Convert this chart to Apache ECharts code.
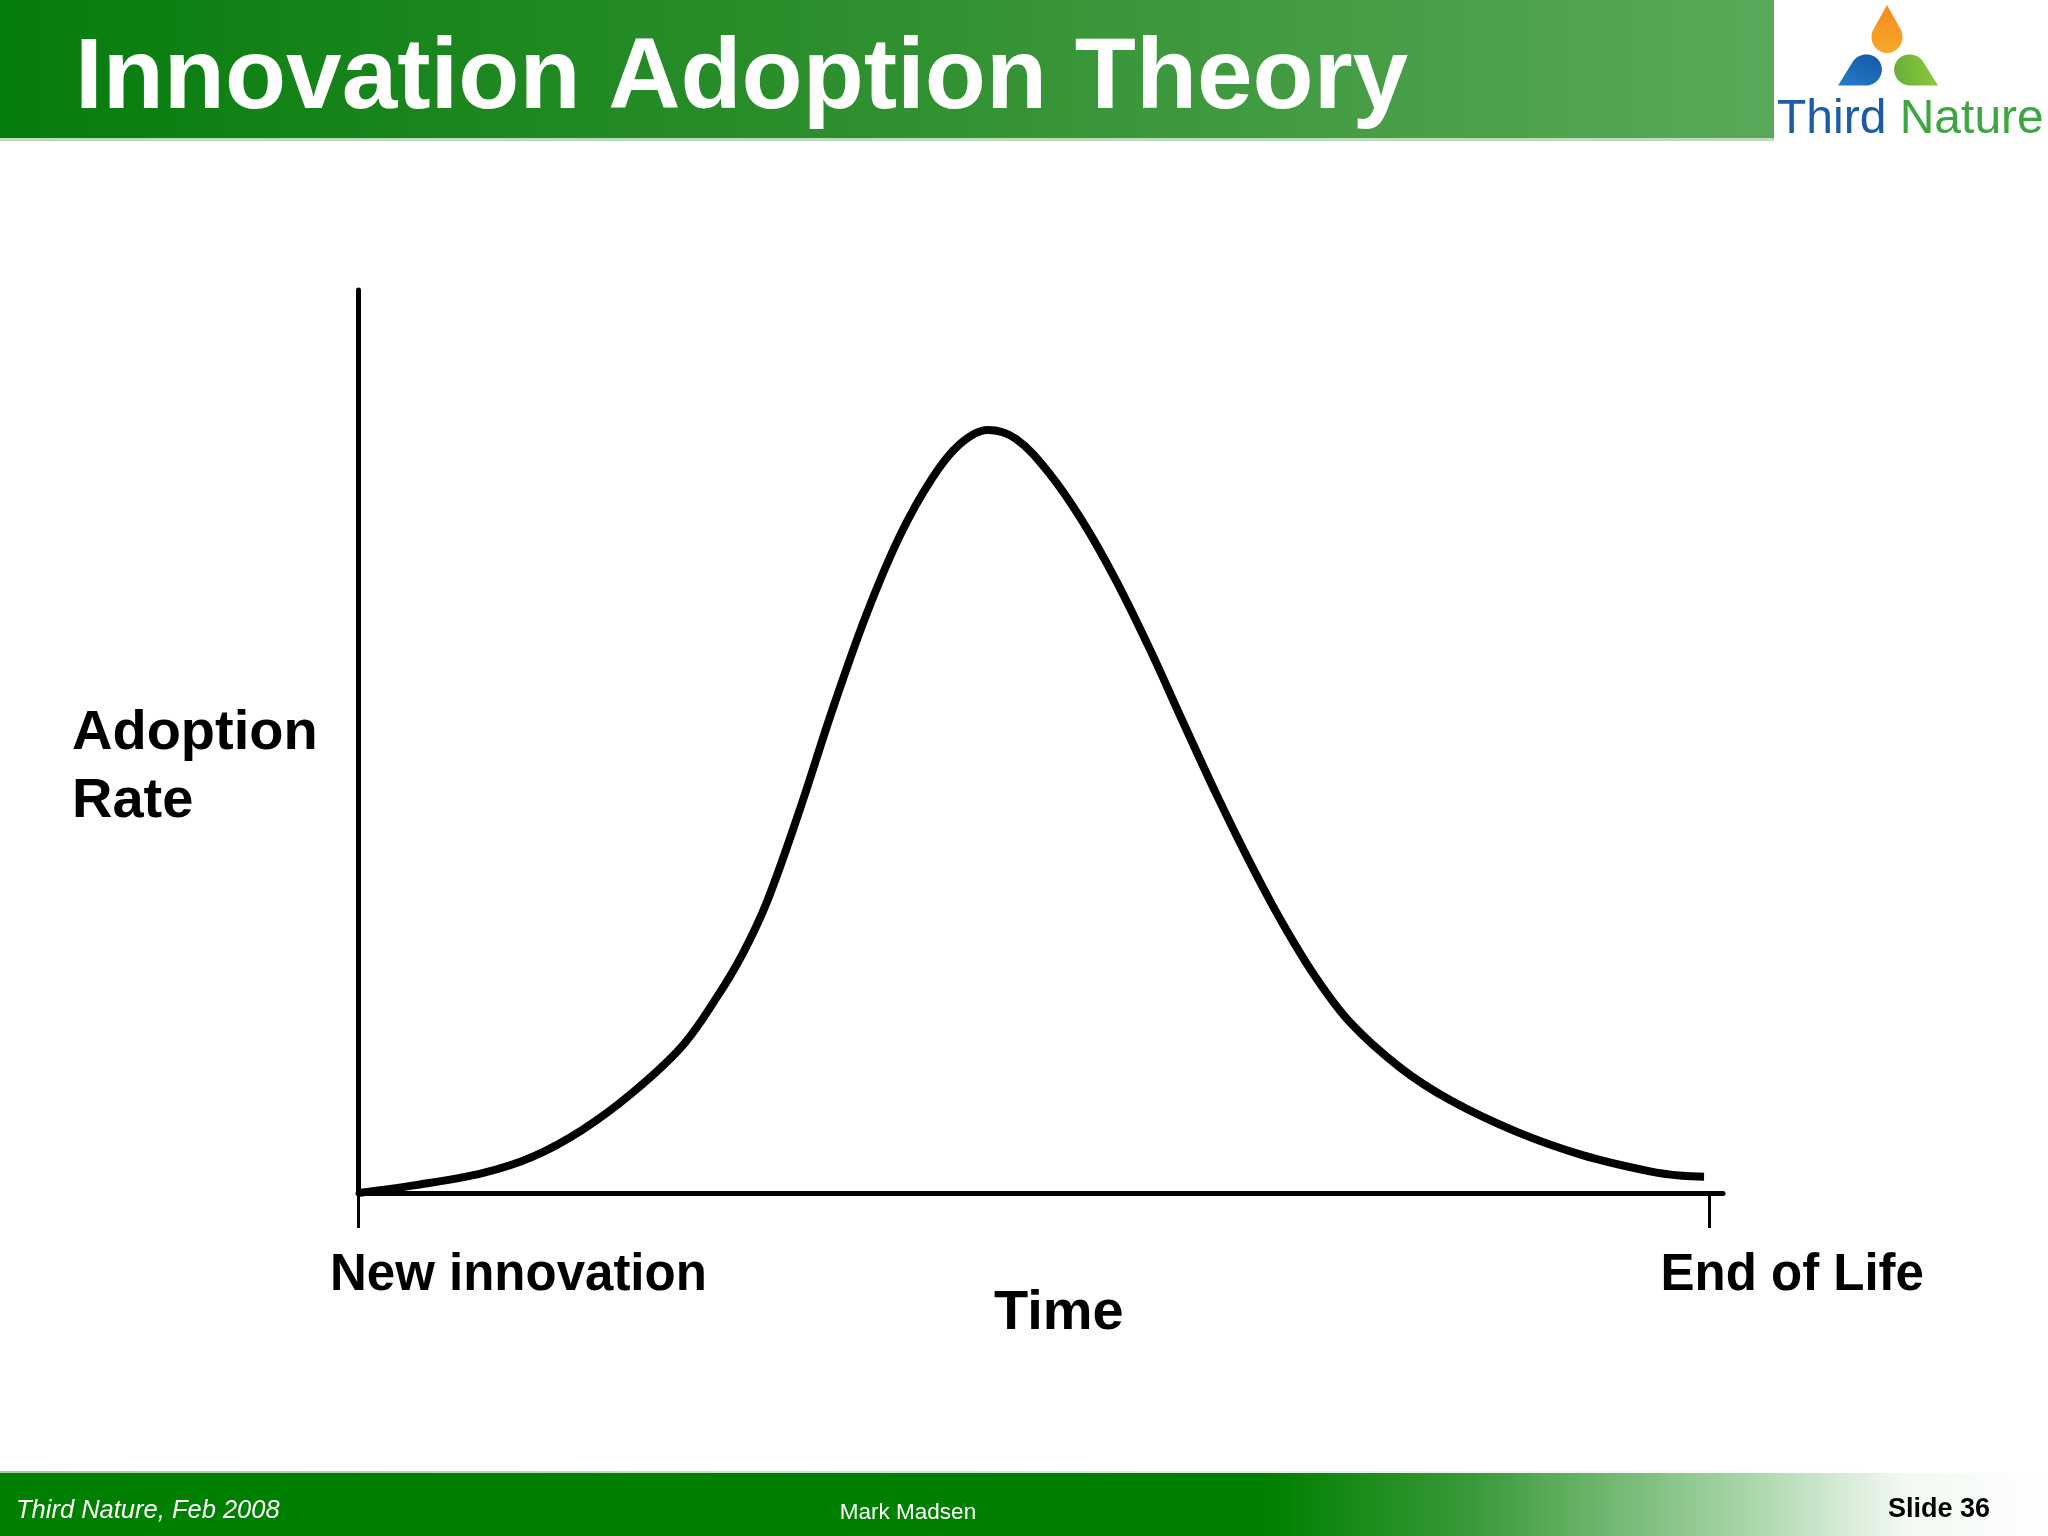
<!DOCTYPE html>
<html><head><meta charset="utf-8">
<script src="https://cdn.jsdelivr.net/npm/echarts@6/dist/echarts.min.js"></script>
<style>html,body{margin:0;padding:0;background:#fff}#c{width:2048px;height:1536px}</style>
</head><body><div id="c"></div>
<script>
// ---- data ----
const timeX = [0, 4.4, 9.2, 12.9, 16.6, 20.3, 24.0, 26.6, 28.5, 30.3, 32.7, 35.1, 37.6, 40.1, 42.5, 44.5, 46.6, 48.7, 51.2, 53.6, 56.1, 58.6, 61.0, 63.5, 66.0, 68.4, 70.9, 73.4, 77.1, 80.8, 85.7, 90.6, 95.6, 98.0, 99.6];
const adoptionRate = [0, 0.9, 2.2, 4.0, 7.0, 11.1, 16.3, 21.8, 26.6, 32.4, 42.5, 53.5, 64.0, 72.8, 79.2, 82.9, 84.5, 83.5, 79.6, 74.4, 67.8, 60.2, 52.3, 44.2, 36.6, 29.9, 23.8, 18.9, 13.9, 10.3, 6.8, 4.2, 2.4, 1.9, 1.8];
const xTickValues = [0, 100];
const xTickLabels = ['New innovation', 'End of Life'];
const xAxisTitle = 'Time';
const yAxisTitleLines = ['Adoption', 'Rate'];
const slideTitle = 'Innovation Adoption Theory';
const footerLeft = 'Third Nature, Feb 2008';
const footerMid = 'Mark Madsen';
const footerRight = 'Slide 36';

const FONT = '"Liberation Sans", Arial, Helvetica, sans-serif';
const chart = echarts.init(document.getElementById('c'), null, {renderer: 'canvas'});

const curve = timeX.map((x, i) => [x, adoptionRate[i]]);

// teardrop outline (tip up), circle radius 10 at origin, tip at (0,-20)
const dropPts = (function () {
  const pts = [[0, -20]];
  const a0 = -30 * Math.PI / 180, a1 = 210 * Math.PI / 180;
  for (let k = 0; k <= 40; k++) {
    const a = a0 + (a1 - a0) * k / 40;
    pts.push([10 * Math.cos(a), 10 * Math.sin(a)]);
  }
  return pts;
})();

function txt(id, x, y, text, size, opts) {
  return {
    type: 'text', id: id, x: x, y: y, z: 20,
    style: Object.assign({text: text, font: 'bold ' + size + 'px ' + FONT, fill: '#000',
      align: 'left', verticalAlign: 'middle'}, opts || {})
  };
}

function buildGraphic(tick0, tick1) {
  return [
    {type: 'rect', id: 'hdr', z: 1, shape: {x: 0, y: 0, width: 1774, height: 138},
      style: {fill: new echarts.graphic.LinearGradient(0, 0, 1, 0, [
        {offset: 0, color: '#067c0c'}, {offset: 0.5, color: '#2f902f'}, {offset: 1, color: '#5aa95a'}])}},
    {type: 'rect', id: 'hdrline', z: 1, shape: {x: 0, y: 138, width: 1774, height: 3},
      style: {fill: '#b9dcb9'}},
    {type: 'rect', id: 'ftr', z: 1, shape: {x: 0, y: 1473, width: 2048, height: 63},
      style: {fill: new echarts.graphic.LinearGradient(0, 0, 1, 0, [
        {offset: 0, color: '#008000'}, {offset: 0.62, color: '#008000'},
        {offset: 0.72, color: '#3a9a3a'}, {offset: 0.85, color: '#a6d4a6'},
        {offset: 0.93, color: '#f2f9f2'}, {offset: 1, color: '#ffffff'}])}},
    {type: 'rect', id: 'ftrline', z: 1, shape: {x: 0, y: 1471, width: 1880, height: 2},
      style: {fill: new echarts.graphic.LinearGradient(0, 0, 1, 0, [
        {offset: 0, color: '#9fd09f'}, {offset: 1, color: '#ffffff'}])}},
    {type: 'polygon', id: 'dropO', z: 5, x: 1887, y: 37, scaleX: 1.55, scaleY: 1.6,
      shape: {points: dropPts},
      style: {fill: new echarts.graphic.LinearGradient(0, 0, 0, 1, [
        {offset: 0, color: '#f58a1f'}, {offset: 1, color: '#f7a82a'}])}},
    {type: 'polygon', id: 'dropB', z: 5, x: 1866, y: 70, rotation: 2.08, scaleX: 1.55, scaleY: 1.6,
      shape: {points: dropPts},
      style: {fill: new echarts.graphic.LinearGradient(0, 0, 1, 1, [
        {offset: 0, color: '#2584d0'}, {offset: 1, color: '#1557a3'}])}},
    {type: 'polygon', id: 'dropG', z: 5, x: 1910, y: 70, rotation: -2.08, scaleX: 1.55, scaleY: 1.6,
      shape: {points: dropPts},
      style: {fill: new echarts.graphic.LinearGradient(0, 0, 1, 1, [
        {offset: 0, color: '#96cc3c'}, {offset: 1, color: '#62ac3a'}])}},
    {type: 'text', id: 'logoTxt', z: 5, x: 1777, y: 120,
      style: {text: '{b|Third} {g|Nature}', font: '48px ' + FONT, verticalAlign: 'middle', align: 'left',
        rich: {b: {fill: '#1a5ca6', font: '48px ' + FONT}, g: {fill: '#3ca640', font: '48px ' + FONT}}}},
    txt('title', 75, 80, slideTitle, 100, {fill: '#ffffff'}),
    txt('yt1', 72, 734, yAxisTitleLines[0], 56),
    txt('yt2', 72, 802, yAxisTitleLines[1], 56),
    txt('xt', 994, 1314, xAxisTitle, 56),
    txt('xl0', tick0 - 28, 1276, xTickLabels[0], 51),
    txt('xl1', tick1 - 49, 1276, xTickLabels[1], 51),
    txt('f1', 16, 1511, footerLeft, 25.5, {font: 'italic 25.5px ' + FONT, fill: '#ffffff'}),
    txt('f2', 908, 1513, footerMid, 22.5, {font: '22.5px ' + FONT, fill: '#ffffff', align: 'center'}),
    txt('f3', 1990, 1510, footerRight, 27, {align: 'right'})
  ];
}

const option = {
  backgroundColor: '#ffffff',
  animation: false,
  grid: {left: 358, top: 290, width: 1365, height: 903, containLabel: false},
  xAxis: {
    type: 'value', min: 0, max: 101,
    axisLine: {show: true, onZero: false, lineStyle: {color: '#000', width: 5}},
    axisTick: {show: true, length: 35, lineStyle: {color: '#000', width: 3}, customValues: xTickValues},
    axisLabel: {show: false, customValues: xTickValues},
    splitLine: {show: false}
  },
  yAxis: {
    type: 'value', min: 0, max: 100,
    axisLine: {show: true, onZero: false, lineStyle: {color: '#000', width: 5}},
    axisTick: {show: false}, axisLabel: {show: false}, splitLine: {show: false}
  },
  series: [{
    type: 'line', data: curve, smooth: 0.35, symbol: 'none', clip: false,
    lineStyle: {color: '#000', width: 8}, z: 5
  }],
  graphic: buildGraphic(358, 1710)
};
chart.setOption(option);
const t0 = chart.convertToPixel({xAxisIndex: 0}, xTickValues[0]);
const t1 = chart.convertToPixel({xAxisIndex: 0}, xTickValues[1]);
chart.setOption({graphic: buildGraphic(t0, t1)});
</script>
</body></html>
